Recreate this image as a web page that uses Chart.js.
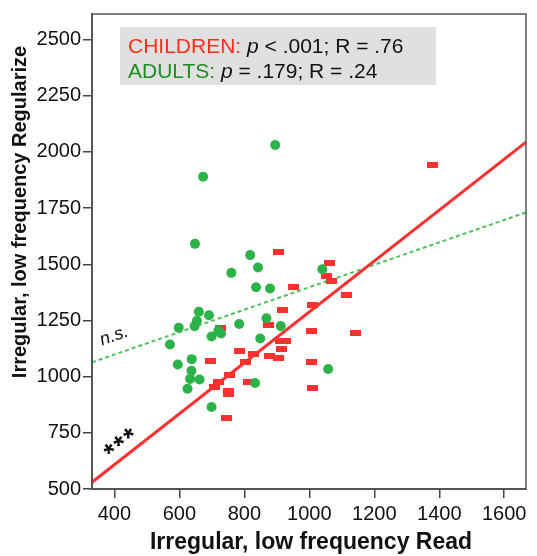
<!DOCTYPE html>
<html><head><meta charset="utf-8">
<script src="https://cdn.jsdelivr.net/npm/chart.js@4"></script>
<style>html,body{margin:0;padding:0;background:#fff}#wrap{width:537px;height:556px}</style>
</head><body><div id="wrap"><canvas id="c" width="537" height="556"></canvas></div>
<script>
// ---- data ----
const childrenRead       = [904, 951, 1062, 1052, 1068, 1114, 1011, 917, 873, 728, 910, 927, 915, 1007, 784, 829, 876, 905, 697, 803, 1006, 753, 721, 814, 709, 752, 750, 1010, 746, 1141, 1379];
const childrenRegularize = [1553, 1399, 1504, 1449, 1425, 1364, 1317, 1298, 1229, 1218, 1157, 1157, 1124, 1202, 1114, 1101, 1093, 1085, 1070, 1066, 1063, 1007, 977, 974, 953, 935, 922, 950, 814, 1193, 1940];
const adultsRead         = [895, 673, 648, 818, 760, 842, 836, 879, 1040, 660, 691, 598, 654, 647, 784, 868, 912, 720, 728, 699, 849, 571, 638, 595, 1058, 637, 633, 662, 833, 625, 699];
const adultsRegularize   = [2031, 1890, 1591, 1541, 1462, 1486, 1398, 1392, 1478, 1289, 1273, 1218, 1249, 1225, 1234, 1260, 1225, 1205, 1192, 1179, 1170, 1143, 1078, 1054, 1034, 1026, 990, 987, 972, 946, 865];
const childrenFitX = [331, 1667];
const childrenFitY = [530, 2044];
const adultsFitX   = [331, 1667];
const adultsFitY   = [1064, 1731];
const xTicks = [400, 600, 800, 1000, 1200, 1400, 1600];
const yTicks = [500, 750, 1000, 1250, 1500, 1750, 2000, 2250, 2500];
const xRange = [331, 1667];
const yRange = [500, 2614];
const xTitle = 'Irregular, low frequency Read';
const yTitle = 'Irregular, low frequency Regularize';

const FAM = '"Liberation Sans", Arial, Helvetica, sans-serif';
const RED = '#ff3030';
const GREEN = '#2db24a';

const pts = (xs, ys) => xs.map((x, i) => ({x: x, y: ys[i]}));

const rectMark = document.createElement('canvas');
rectMark.width = 11; rectMark.height = 6;
{ const g = rectMark.getContext('2d'); g.fillStyle = RED; g.fillRect(0, 0, 11, 6); }

const decor = {
  id: 'decor',
  afterDraw(chart) {
    const ctx = chart.ctx, a = chart.chartArea;
    ctx.save();
    // plot frame
    ctx.strokeStyle = '#555'; ctx.lineWidth = 1.5;
    ctx.strokeRect(a.left, a.top, a.right - a.left, a.bottom - a.top);
    // stats box
    ctx.fillStyle = '#e0e0e0';
    ctx.fillRect(120, 27, 316, 58);
    const runs = (x, y, list) => {
      ctx.textBaseline = 'alphabetic'; ctx.textAlign = 'left';
      list.forEach(r => {
        ctx.font = (r.i ? 'italic ' : '') + '21px ' + FAM;
        ctx.fillStyle = r.c || '#111';
        ctx.fillText(r.t, x, y);
        x += ctx.measureText(r.t).width;
      });
    };
    runs(128, 53, [{t: 'CHILDREN:', c: '#ff2d1a'}, {t: ' '}, {t: 'p', i: true}, {t: ' < .001; R = .76'}]);
    runs(128, 78, [{t: 'ADULTS:', c: '#1e8f22'}, {t: ' '}, {t: 'p', i: true}, {t: ' = .179; R = .24'}]);
    // annotations
    ctx.fillStyle = '#111';
    ctx.save();
    ctx.translate(114, 336); ctx.rotate(-0.34);
    ctx.font = 'italic 18px ' + FAM; ctx.textAlign = 'center'; ctx.textBaseline = 'middle';
    ctx.fillText('n.s.', 0, 0);
    ctx.restore();
    ctx.save();
    ctx.translate(123, 445); ctx.rotate(-0.67);
    ctx.font = 'bold 27px ' + FAM; ctx.textAlign = 'center'; ctx.textBaseline = 'middle';
    ctx.letterSpacing = '2px';
    ctx.fillText('***', 0, 0);
    ctx.restore();
    // axis titles
    ctx.fillStyle = '#111';
    ctx.font = 'bold 23px ' + FAM; ctx.textAlign = 'center'; ctx.textBaseline = 'middle';
    ctx.fillText(xTitle, 311, 543);
    ctx.save();
    ctx.translate(20, 212); ctx.rotate(-Math.PI / 2);
    ctx.font = 'bold 20px ' + FAM;
    ctx.fillText(yTitle, 0, 0);
    ctx.restore();
    ctx.restore();
  }
};

const axisCommon = {
  type: 'linear',
  grid: {drawOnChartArea: false, drawTicks: true, tickLength: 9, color: '#444', lineWidth: 1.5},
  border: {display: true, color: '#555', width: 2},
  title: {display: false}
};

new Chart(document.getElementById('c'), {
  type: 'scatter',
  data: {
    datasets: [
      {label: 'Adults', data: pts(adultsRead, adultsRegularize), pointStyle: 'circle', pointRadius: 5, pointHoverRadius: 5, backgroundColor: GREEN, borderWidth: 0, order: 0},
      {label: 'Children', data: pts(childrenRead, childrenRegularize), pointStyle: rectMark, pointRadius: 5, backgroundColor: RED, borderWidth: 0, order: 1},
      {type: 'line', label: 'Children fit', data: pts(childrenFitX, childrenFitY), borderColor: '#ff3030', borderWidth: 3, pointRadius: 0, fill: false, order: 2},
      {type: 'line', label: 'Adults fit', data: pts(adultsFitX, adultsFitY), borderColor: '#4cc25a', borderWidth: 2, borderDash: [4, 3], pointRadius: 0, fill: false, order: 3}
    ]
  },
  options: {
    responsive: false, animation: false, devicePixelRatio: 1,
    layout: {padding: {top: 7, right: 11, left: 0, bottom: 0}},
    plugins: {legend: {display: false}, tooltip: {enabled: false}},
    scales: {
      x: Object.assign({}, axisCommon, {
        min: xRange[0], max: xRange[1],
        afterBuildTicks: s => { s.ticks = xTicks.map(v => ({value: v})); },
        afterFit: s => { s.height = 67; },
        ticks: {font: {family: FAM, size: 20}, color: '#111', padding: 4, maxRotation: 0, autoSkip: false, callback: v => String(v)}
      }),
      y: Object.assign({}, axisCommon, {
        min: yRange[0], max: yRange[1],
        afterBuildTicks: s => { s.ticks = yTicks.map(v => ({value: v})); },
        afterFit: s => { s.width = 92; },
        ticks: {font: {family: FAM, size: 20}, color: '#111', padding: 2, autoSkip: false, callback: v => String(v)}
      })
    }
  },
  plugins: [decor]
});
</script></body></html>
